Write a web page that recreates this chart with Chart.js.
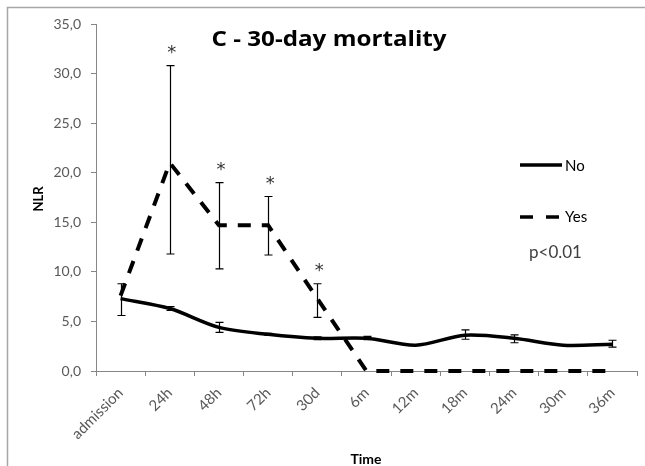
<!DOCTYPE html>
<html>
<head>
<meta charset="utf-8">
<title>C - 30-day mortality</title>
<script src="https://cdn.jsdelivr.net/npm/chart.js@4.4.1/dist/chart.umd.min.js"></script>
<style>
  html, body { margin: 0; padding: 0; background: #fff; }
  #chart { display: block; }
</style>
</head>
<body>
<canvas id="chart" width="645" height="466"></canvas>
<script>
// time points
const timeLabels = ['admission', '24h', '48h', '72h', '30d', '6m', '12m', '18m', '24m', '30m', '36m'];

// 30-day mortality: No
const noMeans   = [7.3, 6.3, 4.4, 3.7, 3.3, 3.3, 2.6, 3.6, 3.3, 2.6, 2.7];
const noErrLow  = [null, 6.1, 3.9, 3.6, 3.15, 3.15, null, 3.2, 2.85, null, 2.4];
const noErrHigh = [null, 6.5, 4.9, 3.8, 3.45, 3.5, null, 4.15, 3.65, null, 3.1];

// 30-day mortality: Yes
const yesMeans   = [7.6, 21.0, 14.7, 14.7, 7.3, 0, 0, 0, 0, 0, 0];
const yesErrLow  = [5.6, 11.8, 10.3, 11.7, 5.4, null, null, null, null, null, null];
const yesErrHigh = [8.8, 30.8, 19.0, 17.6, 8.8, null, null, null, null, null, null];

// points marked with *
const significant = [false, true, true, true, true, false, false, false, false, false, false];

const FONT = 'Lato, "DejaVu Sans", sans-serif';

// whiskers + stars, using the chart's own scales
const errorBars = {
    id: 'errorBars',
    afterDatasetsDraw(chart) {
        const { ctx, scales: { x, y } } = chart;
        const sets = [[noErrLow, noErrHigh], [yesErrLow, yesErrHigh]];
        ctx.save();
        ctx.strokeStyle = '#000';
        ctx.lineWidth = 1.2;
        sets.forEach(([lo, hi]) => {
            lo.forEach((v, i) => {
                if (v == null || hi[i] == null) return;
                const px = Math.round(x.getPixelForValue(i)) + 0.5;
                const y1 = y.getPixelForValue(v);
                const y2 = y.getPixelForValue(hi[i]);
                ctx.beginPath();
                ctx.moveTo(px, y1); ctx.lineTo(px, y2);
                ctx.moveTo(px - 4, y1); ctx.lineTo(px + 4, y1);
                ctx.moveTo(px - 4, y2); ctx.lineTo(px + 4, y2);
                ctx.stroke();
            });
        });

        ctx.fillStyle = '#333';
        ctx.font = '18px "DejaVu Sans", sans-serif';
        ctx.textAlign = 'center';
        ctx.textBaseline = 'alphabetic';
        significant.forEach((s, i) => {
            if (!s) return;
            const px = x.getPixelForValue(i) + 2;
            const py = y.getPixelForValue(yesErrHigh[i]) - 8;
            ctx.fillText('*', px, py);
        });
        ctx.restore();
    }
};

// frame, title, legend, axis titles
const decorations = {
    id: 'decorations',
    beforeDraw(chart) {
        const { ctx, width, height } = chart;
        ctx.save();
        ctx.fillStyle = '#fff';
        ctx.fillRect(0, 0, width, height);
        ctx.strokeStyle = '#a6a6a6';
        ctx.lineWidth = 1.5;
        ctx.beginPath();
        ctx.moveTo(7.5, height);
        ctx.lineTo(7.5, 7.5);
        ctx.lineTo(width, 7.5);
        ctx.stroke();
        ctx.restore();
    },
    afterDraw(chart) {
        const { ctx } = chart;
        ctx.save();
        ctx.fillStyle = '#000';
        ctx.textBaseline = 'middle';

        // title, a bit wider than the font's natural width
        ctx.save();
        ctx.translate(329, 40);
        ctx.scale(1.1, 1);
        ctx.textAlign = 'center';
        ctx.font = 'bold 22px "Open Sans", sans-serif';
        ctx.fillText('C - 30-day mortality', 0, 0);
        ctx.restore();

        ctx.textAlign = 'center';
        ctx.font = 'bold 14px ' + FONT;
        ctx.fillText('Time', 366, 459);
        ctx.save();
        ctx.translate(39, 199);
        ctx.rotate(-Math.PI / 2);
        ctx.font = 'bold 13px ' + FONT;
        ctx.fillText('NLR', 0, 0);
        ctx.restore();

        // legend
        ctx.strokeStyle = '#000';
        ctx.lineWidth = 3.5;
        ctx.beginPath();
        ctx.moveTo(520, 165); ctx.lineTo(562, 165);
        ctx.stroke();
        ctx.setLineDash([13, 13]);
        ctx.beginPath();
        ctx.moveTo(520, 217); ctx.lineTo(560, 217);
        ctx.stroke();
        ctx.setLineDash([]);

        ctx.textAlign = 'left';
        ctx.font = '15px ' + FONT;
        ctx.fillText('No', 565, 166);
        ctx.fillText('Yes', 565, 217);
        ctx.fillStyle = '#404040';
        ctx.font = '17px ' + FONT;
        ctx.fillText('p<0.01', 529, 253);
        ctx.restore();
    }
};

new Chart(document.getElementById('chart'), {
    type: 'line',
    data: {
        labels: timeLabels,
        datasets: [
            {
                label: 'No',
                data: noMeans,
                borderColor: '#000',
                borderWidth: 3.5,
                pointRadius: 0,
                tension: 0.3,
                fill: false,
                clip: false
            },
            {
                label: 'Yes',
                data: yesMeans,
                borderColor: '#000',
                borderWidth: 4,
                borderDash: [13, 11],
                pointRadius: 0,
                tension: 0,
                fill: false,
                clip: false
            }
        ]
    },
    options: {
        responsive: false,
        animation: false,
        devicePixelRatio: 1,
        layout: { padding: { top: 24, right: 8, left: 0, bottom: 0 } },
        plugins: {
            legend: { display: false },
            tooltip: { enabled: false }
        },
        scales: {
            y: {
                min: 0,
                max: 35,
                ticks: {
                    stepSize: 5,
                    color: '#595959',
                    font: { family: FONT, size: 14 },
                    padding: 10,
                    callback: v => v.toFixed(1).replace('.', ',')
                },
                grid: { drawOnChartArea: false, drawTicks: true, tickLength: 5, color: '#868686' },
                border: { color: '#868686', width: 1 },
                afterFit: s => { s.width = 96; }
            },
            x: {
                offset: true,
                ticks: {
                    color: '#595959',
                    font: { family: FONT, size: 15 },
                    minRotation: 45,
                    maxRotation: 45,
                    padding: 8,
                    autoSkip: false
                },
                grid: { offset: true, drawOnChartArea: false, drawTicks: true, tickLength: 5, color: '#868686' },
                border: { color: '#868686', width: 1 },
                afterFit: s => { s.height = 95; }
            }
        }
    },
    plugins: [decorations, errorBars]
});
</script>
</body>
</html>
